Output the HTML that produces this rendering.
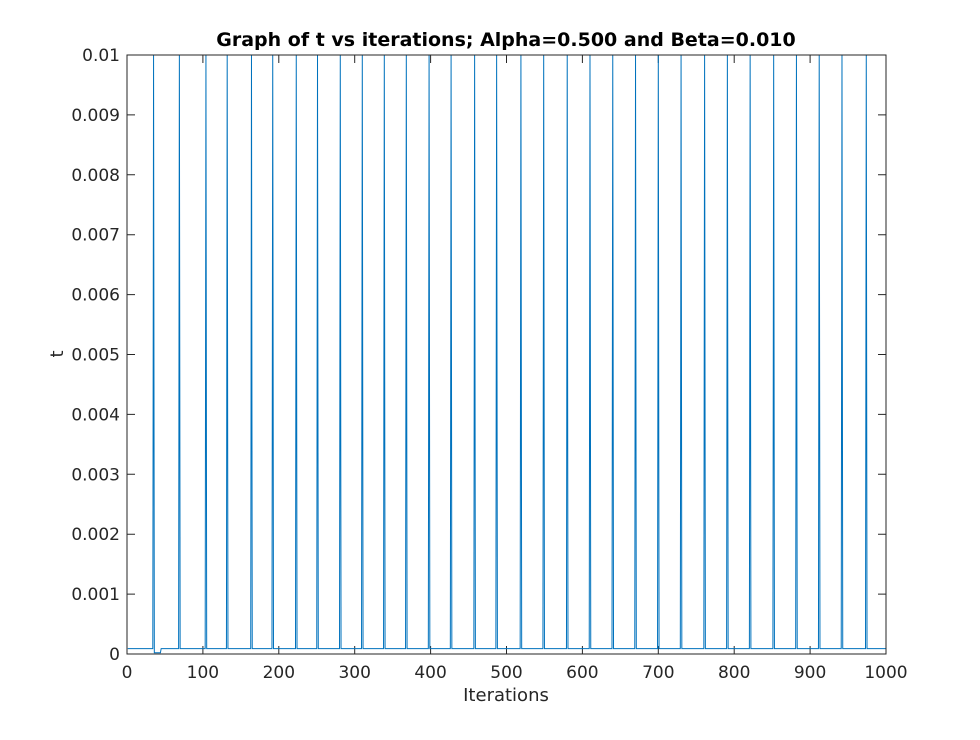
<!DOCTYPE html>
<html><head><meta charset="utf-8"><style>
body{margin:0;background:#fff;}
svg text{font-family:"DejaVu Sans","Liberation Sans",sans-serif;fill:#262626;}
</style></head><body>
<svg id="chart" width="980" height="735" xmlns="http://www.w3.org/2000/svg">
<rect width="980" height="735" fill="#fff"/>
<text x="506" y="46" text-anchor="middle" font-size="19" font-weight="bold" style="fill:#000">Graph of t vs iterations; Alpha=0.500 and Beta=0.010</text>
<text x="506" y="701" text-anchor="middle" font-size="18">Iterations</text>
<text transform="translate(63,354) rotate(-90)" text-anchor="middle" font-size="18">t</text>
<g id="ticks"></g>
<path id="series" fill="none" stroke="#0072BD" stroke-width="1"/>
<rect x="127" y="55" width="759" height="599" fill="none" stroke="#262626" stroke-width="1"/>
</svg>
<script>
const xTicks=[0,100,200,300,400,500,600,700,800,900,1000];
const yTicks=[0,0.001,0.002,0.003,0.004,0.005,0.006,0.007,0.008,0.009,0.01];
const yTickLabels=["0","0.001","0.002","0.003","0.004","0.005","0.006","0.007","0.008","0.009","0.01"];
const spikeIterations=[35,69,104,132,164,192,223,251,281,310,339,368,398,427,458,487,519,549,580,610,640,670,700,730,761,791,821,852,882,912,942,974];
const spikeValue=[0.01];
const baselineValue=[0.00009];
const dipRange=[36,44];
const dipValue=[0.00002];
const nIter=[1000];

const X0=127,X1=886,Y0=654,Y1=55;
const xs=v=>X0+(v/1000)*(X1-X0);
const ys=v=>Y0-(v/0.01)*(Y0-Y1);
const NS="http://www.w3.org/2000/svg";
const g=document.getElementById('ticks');
xTicks.forEach((t,i)=>{
  const x=xs(t);
  const l=document.createElementNS(NS,'path');
  l.setAttribute('d',`M${x},${Y0}v-8M${x},${Y1}v8`);
  l.setAttribute('stroke','#262626');
  
  
  g.appendChild(l);
  const tx=document.createElementNS(NS,'text');
  tx.setAttribute('x',x);tx.setAttribute('y',Y0+24);
  tx.setAttribute('text-anchor','middle');tx.setAttribute('font-size','17');
  tx.textContent=String(t);
  
  
  g.appendChild(tx);
});
yTicks.forEach((t,i)=>{
  const y=ys(t);
  const l=document.createElementNS(NS,'path');
  l.setAttribute('d',`M${X0},${y}h8M${X1},${y}h-8`);
  l.setAttribute('stroke','#262626');
  
  
  g.appendChild(l);
  const tx=document.createElementNS(NS,'text');
  tx.setAttribute('x',X0-7);tx.setAttribute('y',y+6);
  tx.setAttribute('text-anchor','end');tx.setAttribute('font-size','17');
  tx.textContent=yTickLabels[i];
  
  
  g.appendChild(tx);
});
const vals=[];
for(let i=1;i<=nIter[0];i++){
  let v=baselineValue[0];
  if(i>=dipRange[0]&&i<=dipRange[1]) v=dipValue[0];
  if(spikeIterations.includes(i)) v=spikeValue[0];
  vals.push([i,v]);
}
document.getElementById('series').setAttribute('d',vals.map((p,k)=>(k?'L':'M')+xs(p[0]).toFixed(2)+','+ys(p[1]).toFixed(2)).join(''));
</script>
</body></html>
